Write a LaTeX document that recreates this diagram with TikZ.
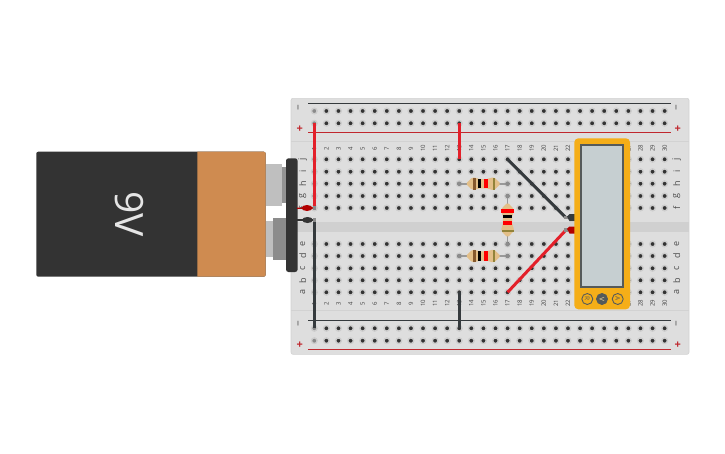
\documentclass[tikz,border=0pt]{standalone}
\usepackage{fontspec}
\setmainfont{Open Sans}
\definecolor{boardfill}{HTML}{DEDEDE}
\definecolor{boardline}{HTML}{D2D2D2}
\definecolor{gapfill}{HTML}{D0D0D0}
\definecolor{holedark}{HTML}{333333}
\definecolor{holefirst}{HTML}{8A8A8A}
\definecolor{holehalo}{HTML}{CDCDCD}
\definecolor{railred}{HTML}{C0272D}
\definecolor{wirered}{HTML}{E3202A}
\definecolor{wireblack}{HTML}{353A3D}
\definecolor{batdark}{HTML}{333333}
\definecolor{batorange}{HTML}{CF8B50}
\definecolor{meterorange}{HTML}{F5AE18}
\definecolor{meterscreen}{HTML}{C6CFD1}
\definecolor{meterdark}{HTML}{555A5A}
\definecolor{resbody}{HTML}{E3BF88}
\tikzset{
  hole/.style={circle,fill=holedark,draw=holehalo,line width=1.4pt,inner sep=0pt,minimum size=5.6pt},
  holeone/.style={hole,fill=holefirst},
  collabel/.style={rotate=90,text=black!75,font=\fontsize{6}{6}\selectfont,inner sep=0pt},
  rowlabel/.style={rotate=90,text=black!70,font=\fontsize{9}{9}\selectfont,inner sep=0pt},
  minuslabel/.style={rotate=90,text=black!75,font=\fontsize{10}{10}\selectfont,inner sep=0pt},
  pluslabel/.style={text=railred,font=\bfseries\fontsize{11}{11}\selectfont,inner sep=0pt},
  redwire/.style={draw=wirered,line width=3pt},
  blackwire/.style={draw=wireblack,line width=3pt},
  meterbtn/.style={circle,draw=meterdark,line width=.9pt,inner sep=0pt,minimum size=11pt,rotate=-90,text=meterdark,font=\fontsize{6.5}{6.5}\selectfont},
  resistor/.pic={
    \draw[black!40,line width=1.6pt] (0,0) -- (48.3,0);
    \fill[black!45] (0,0) circle (2.2) (48.3,0) circle (2.2);
    \fill[resbody,rounded corners=1.5] (6.5,0) -- (13,-6.3) -- (17,-6) -- (19,-4.6) -- (29,-4.6) -- (31,-6)
      -- (35,-6.3) -- (41.5,0) -- (35,6.3) -- (31,6) -- (29,4.6) -- (19,4.6) -- (17,6) -- (13,6.3) -- cycle;
    \fill[#1] (13.3,-6.2) rectangle (16.8,6.2);
    \fill[black] (18.8,-4.6) rectangle (22.2,4.6);
    \fill[red] (25,-4.6) rectangle (28.7,4.6);
    \fill[black!30!resbody!60!olive] (34.2,-6) rectangle (35.6,6);
  }
}
\begin{document}
\begin{tikzpicture}[x=1pt,y=-1pt]
  \useasboundingbox (0,0) rectangle (725,453);
  % breadboard
  \draw[fill=boardfill,draw=boardline,line width=.6pt,rounded corners=2] (291,98.3) rectangle (689,354.3);
  \fill[gapfill] (291,221.5) rectangle (689,232);
  \draw[boardline,line width=.8pt] (291,141.5) -- (689,141.5) (291,310.5) -- (689,310.5);
  \foreach \r/\ry in {tm/111,tp/123.3,j/159.3,i/171.7,h/183.7,g/196,f/208,e/244,d/256,c/268.3,b/280.3,a/292.3,bm/328.3,bp/340.7} {
    \node[holeone] (\r-1) at (314.3,\ry) {};
    \foreach \c [evaluate=\c as \cx using {314.3+(\c-1)*12.08}] in {2,...,30}
      \node[hole] (\r-\c) at (\cx,\ry) {};
  }
  \foreach \c [evaluate=\c as \cx using {314.3+(\c-1)*12.08}] in {1,...,30} {
    \node[collabel] (nt-\c) at (\cx,148.3) {\c};
    \node[collabel] (nb-\c) at (\cx,303.3) {\c};
  }
  \foreach \r/\ry in {j/159.3,i/171.7,h/183.7,g/196,f/208,e/244,d/256,c/268.3,b/280.3,a/292.3} {
    \node[rowlabel] (ll-\r) at (302.7,\ry) {\r};
    \node[rowlabel] (lr-\r) at (676.7,\ry) {\r};
  }
  % rails
  \draw[wireblack,line width=1.1pt] (308,103.3) -- (671,103.3) (308,320.3) -- (671,320.3);
  \draw[railred,line width=1.1pt] (308,132.3) -- (671,132.3) (308,349.3) -- (671,349.3);
  \node[minuslabel] (m1) at (299.7,107.3) {−};
  \node[minuslabel] (m2) at (677.7,107.3) {−};
  \node[minuslabel] (m3) at (299.7,324) {−};
  \node[minuslabel] (m4) at (677.7,324) {−};
  \node[pluslabel] (p1) at (299.7,128.9) {+};
  \node[pluslabel] (p2) at (677.7,128.9) {+};
  \node[pluslabel] (p3) at (299.7,345) {+};
  \node[pluslabel] (p4) at (677.7,345) {+};
  % resistors
  \pic at (h-13.center) {resistor={brown!70!black}};
  \pic at (d-13.center) {resistor={brown!70!black}};
  \pic[rotate=-90] at (g-17.center) {resistor={red}};
  % wires
  \coordinate (probeb) at (566,217.7);
  \coordinate (prober) at (566,230);
  \draw[redwire] (tp-1.center) -- (f-1.center);
  \draw[redwire] (tp-13.center) -- (j-13.center);
  \draw[blackwire] (e-1 |- 0,220) -- (bm-1.center);
  \draw[blackwire] (a-13.center) -- (bm-13.center);
  \draw[blackwire] (j-17.center) -- (probeb);
  \draw[redwire] (a-17.center) -- (prober);
  % battery
  \fill[batdark,rounded corners=2] (36.3,151.7) rectangle (265.7,276.7);
  \fill[batorange] (197.3,151.7) [rounded corners=2] -- (265.7,151.7) -- (265.7,276.7) [sharp corners] -- (197.3,276.7) -- cycle;
  \node[rotate=-90,text=black!10,font=\fontsize{39}{39}\selectfont,inner sep=0pt] (volt) at (129,214) {9V};
  \fill[black!25] (266,164) rectangle (281.5,206);
  \fill[black!42] (281.5,167) rectangle (287,203);
  \fill[black!25] (266,220.7) rectangle (273,257);
  \fill[black!45] (273,218) rectangle (287,260);
  \fill[batdark,rounded corners=2.5] (286,158.3) rectangle (297.6,272);
  % clip leads
  \draw[red!70!black,line width=1.4pt] (297,208.3) -- (f-1.center);
  \fill[red!70!black] (307,208) ellipse (5.5 and 3);
  \fill[black!45] (313,206.4) rectangle (316,209.6);
  \draw[batdark,line width=1.4pt] (297,220) -- (314,220);
  \fill[batdark] (307.5,220) ellipse (5.5 and 3);
  \fill[black!45] (313,218.4) rectangle (316,221.6);
  % multimeter
  \fill[black!45] (564,216) rectangle (568,219.4);
  \fill[wireblack] (567,216.5) -- (569.5,214.2) -- (575,214.2) -- (575,221.2) -- (569.5,221.2) -- cycle;
  \fill[black!45] (564,228.3) rectangle (568,231.7);
  \fill[red!70!black] (567,228.8) -- (569.5,226.5) -- (575,226.5) -- (575,233.5) -- (569.5,233.5) -- cycle;
  \fill[meterorange,rounded corners=4] (574.3,138.3) rectangle (630,309.3);
  \draw[fill=meterscreen,draw=meterdark,line width=2.2pt] (581.3,145.3) rectangle (623,286.7);
  \node[meterbtn] (btnr) at (587.3,299) {R};
  \node[meterbtn,fill=meterdark,text=meterorange!40] (btnv) at (602,299) {V};
  \node[meterbtn] (btna) at (617.7,299) {A};
\end{tikzpicture}
\end{document}
